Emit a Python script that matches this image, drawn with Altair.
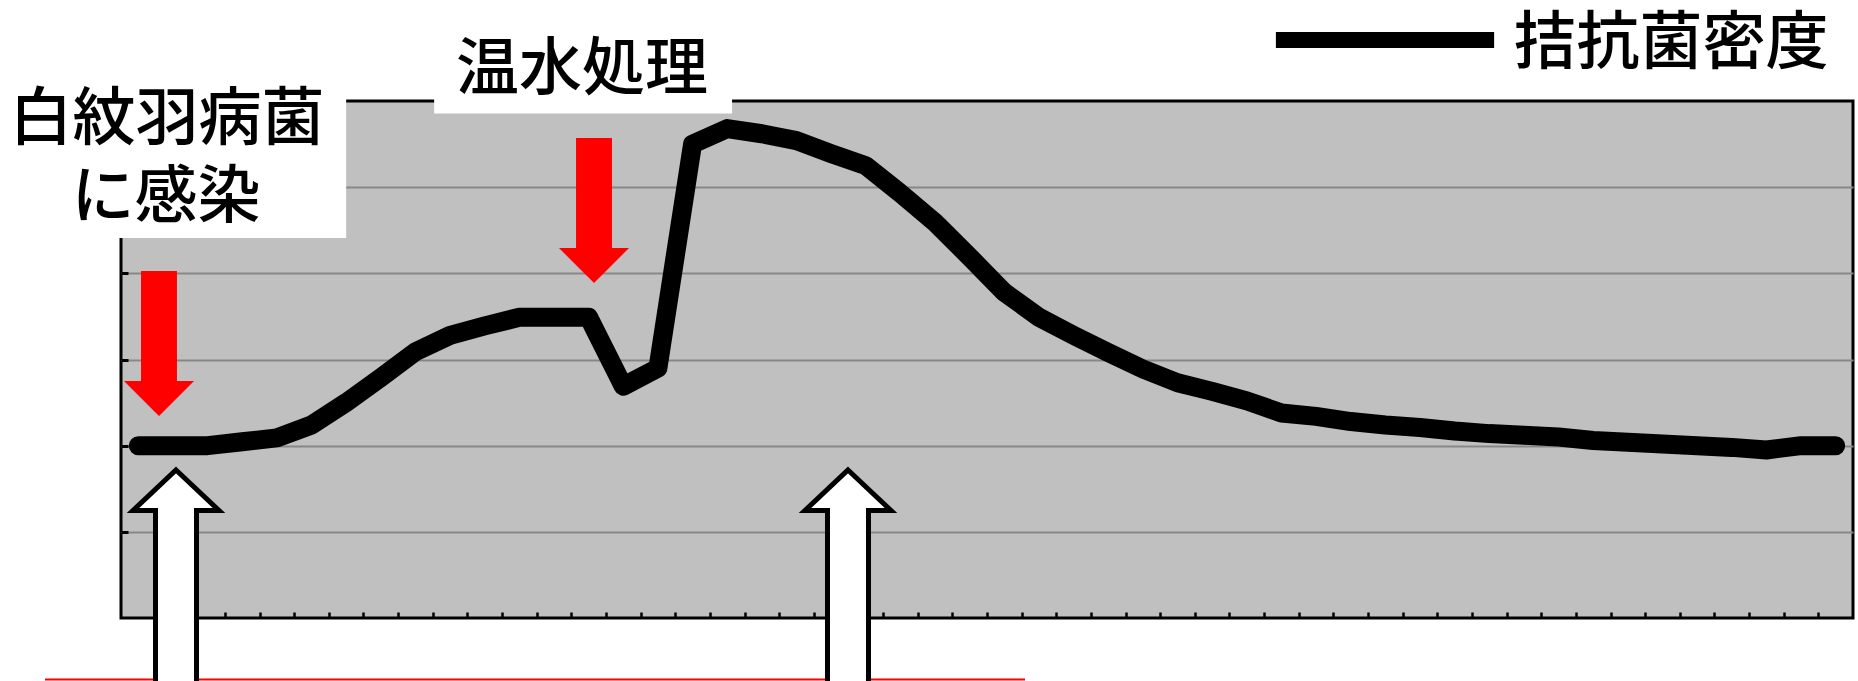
import altair as alt
import pandas as pd

# ---- data -------------------------------------------------------------
# 50 sampling slots along the x axis (category centres at slot + 0.5)
slot = list(range(50))
density = [2.0, 2.0, 2.0, 2.045, 2.09, 2.24, 2.50, 2.79, 3.09, 3.28,
           3.39, 3.49, 3.49, 3.49, 2.69, 2.90, 5.50, 5.68, 5.62, 5.54,
           5.39, 5.25, 4.93, 4.59, 4.19, 3.78, 3.49, 3.28, 3.08, 2.89,
           2.73, 2.63, 2.52, 2.38, 2.34, 2.28, 2.24, 2.21, 2.17, 2.14,
           2.12, 2.10, 2.06, 2.04, 2.02, 2.00, 1.98, 1.95, 2.0, 2.0]
series_name = "拮抗菌密度"

# annotation label boxes (white) in data units
box_x1 = [-3.49, 9.04]
box_x2 = [6.50, 17.64]
box_y1 = [4.41, 5.855]
box_y2 = [6.35, 7.10]

# annotation texts
ann_text = ["白紋羽病菌", "に感染", "温水処理"]
ann_x = [1.328, 1.299, 13.308]
ann_y = [5.555, 4.650, 6.135]

# legend entry
legend_x1 = [33.34]
legend_x2 = [39.64]
legend_y = [6.708]
legend_text_x = [40.20]
legend_text_y = [6.443]

# red event arrows (infection, hot-water treatment)
red_arrow_x = [1.097, 13.655]
red_arrow_y = [3.186, 4.729]

# white arrows below the curve
white_arrow_x = [1.588, 20.987]
white_arrow_y = [0.267, 0.267]

# thin red base line
base_x1 = [-2.194]
base_x2 = [26.097]
base_y = [-0.713]

# ---- tables -----------------------------------------------------------
df_line = pd.DataFrame({"x": [s + 0.5 for s in slot], "y": density})
df_box = pd.DataFrame({"x": box_x1, "x2": box_x2, "y": box_y1, "y2": box_y2})
df_ann = pd.DataFrame({"x": ann_x, "y": ann_y, "t": ann_text})
df_leg = pd.DataFrame({"x": legend_x1, "x2": legend_x2, "y": legend_y})
df_leg_t = pd.DataFrame({"x": legend_text_x, "y": legend_text_y, "t": [series_name]})
df_red = pd.DataFrame({"x": red_arrow_x, "y": red_arrow_y})
df_white = pd.DataFrame({"x": white_arrow_x, "y": white_arrow_y})
df_base = pd.DataFrame({"x": base_x1, "x2": base_x2, "y": base_y})

# ---- scales / axes ----------------------------------------------------
x_scale = alt.Scale(domain=[0, 50], nice=False, zero=False)
y_scale = alt.Scale(domain=[0, 6], nice=False, zero=False)

x_axis = alt.Axis(values=list(range(1, 50)), labels=False, domain=False, grid=False,
                  ticks=True, tickSize=6, tickWidth=2.5, tickColor="black",
                  offset=-6, title=None)
y_axis = alt.Axis(values=[1, 2, 3, 4, 5], labels=False, domain=False, grid=True,
                  gridColor="#878787", gridWidth=2, ticks=True, tickSize=7,
                  tickWidth=3, tickColor="black", offset=-7, title=None)

X = lambda f="x": alt.X(f"{f}:Q", scale=x_scale, axis=x_axis)
Y = lambda f="y": alt.Y(f"{f}:Q", scale=y_scale, axis=y_axis)

FONT = "Noto Sans CJK JP"
FS = 63

RED_ARROW = "M-0.248,-1L0.248,-1L0.248,0.517L0.483,0.517L0,1L-0.483,0.517L-0.248,0.517Z"
WHITE_ARROW = "M0,-1L0.344,-0.676L0.164,-0.676L0.164,1L-0.164,1L-0.164,-0.676L-0.344,-0.676Z"

line = alt.Chart(df_line).mark_line(
    color="black", strokeWidth=19, strokeCap="round", strokeJoin="round"
).encode(x=X(), y=Y())

boxes = alt.Chart(df_box).mark_rect(color="white", opacity=1).encode(
    x=X(), x2="x2:Q", y=Y(), y2="y2:Q")

ann = alt.Chart(df_ann).mark_text(
    font=FONT, fontSize=FS, fontWeight=500, align="center", baseline="alphabetic",
    color="black"
).encode(x=X(), y=Y(), text="t:N")

leg_line = alt.Chart(df_leg).mark_rule(color="black", strokeWidth=16).encode(
    x=X(), x2="x2:Q", y=Y())

leg_text = alt.Chart(df_leg_t).mark_text(
    font=FONT, fontSize=FS, fontWeight=500, align="left", baseline="alphabetic",
    color="black"
).encode(x=X(), y=Y(), text="t:N")

base = alt.Chart(df_base).mark_rule(color="red", strokeWidth=2).encode(
    x=X(), x2="x2:Q", y=Y())

red_arrows = alt.Chart(df_red).mark_point(
    shape=RED_ARROW, size=145 * 145, filled=True, color="red",
    strokeWidth=0, opacity=1
).encode(x=X(), y=Y())

white_arrows = alt.Chart(df_white).mark_point(
    shape=WHITE_ARROW, size=250 * 250, filled=True, color="white",
    stroke="black", strokeWidth=5, strokeJoin="miter", opacity=1
).encode(x=X(), y=Y())

chart = alt.layer(
    line, boxes, ann, leg_line, leg_text, base, red_arrows, white_arrows
).properties(
    width=1732, height=517,
    padding={"left": 121, "top": 101, "right": 5, "bottom": 63},
    autosize=alt.AutoSizeParams(type="none"),
    background="white",
).configure_view(
    fill="#c0c0c0", stroke="black", strokeWidth=3
)

chart.save("out.html", embed_options={"renderer": "svg", "actions": False})
